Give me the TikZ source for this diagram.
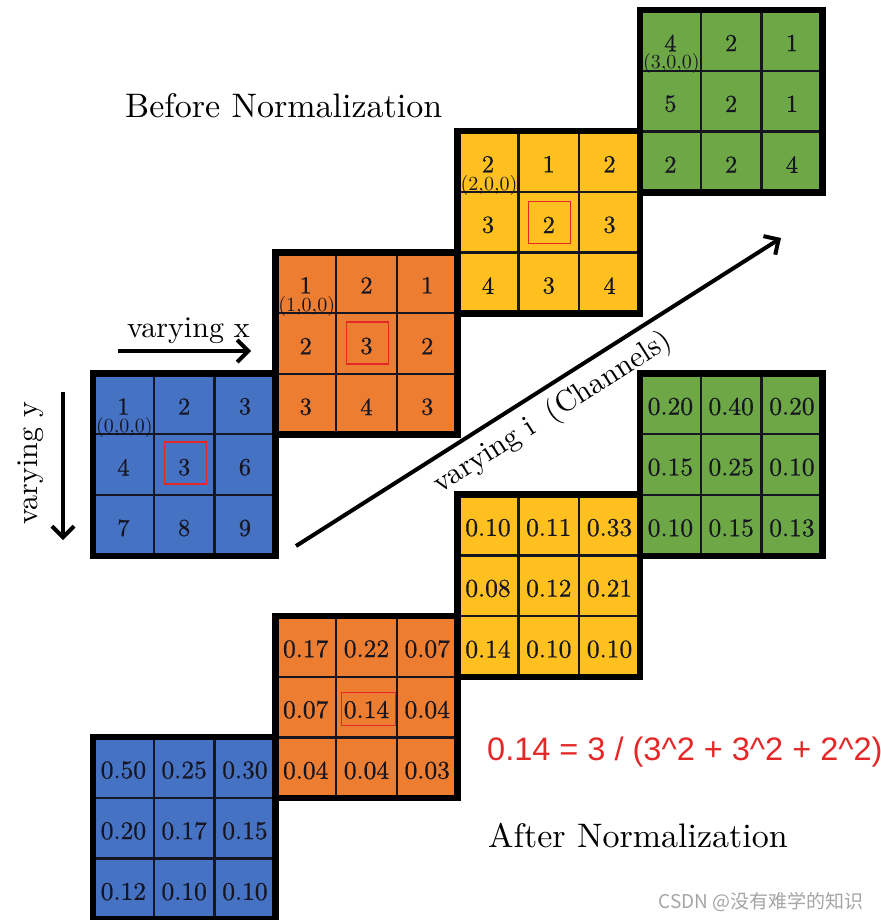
\documentclass[tikz,border=0pt]{standalone}
\usepackage{fontspec}
\setmainfont{lmroman10-regular.otf}
\newfontfamily\numf{lmroman10-regular.otf}[FakeBold=0.7]
\newfontfamily\sansf{Liberation Sans}
\newfontfamily\cjk{Noto Sans CJK SC}
\usetikzlibrary{arrows.meta}
\definecolor{cblue}{RGB}{70,114,196}
\definecolor{corange}{RGB}{237,125,49}
\definecolor{cyellow}{RGB}{255,192,32}
\definecolor{cgreen}{RGB}{110,168,70}
\definecolor{cred}{RGB}{228,40,40}
\definecolor{ctext}{RGB}{22,22,34}
\definecolor{cwm}{RGB}{165,165,165}
\tikzset{
  intnum/.style={text=ctext,inner sep=0pt,font=\numf\fontsize{24.5}{24.5}\selectfont},
  decnum/.style={text=ctext,inner sep=0pt,font=\numf\fontsize{25.5}{25.5}\selectfont},
  idxlbl/.style={text=ctext,inner sep=0pt,font=\fontsize{20}{20}\selectfont},
  innerline/.style={draw=ctext,line width=2.3pt},
  outerline/.style={draw=black,line width=6.5pt},
  redbox/.style={draw=cred,line width=1.6pt,fill=none},
  bigarrow/.style={line width=4pt,-{Straight Barb[length=11pt,width=22pt]}},
  title/.style={inner sep=0pt,font=\fontsize{34}{34}\selectfont},
  axislbl/.style={inner sep=0pt,font=\fontsize{30}{30}\selectfont},
}
\newcommand\drawgrid[6]{%
  \fill[#4] (#2,#3) rectangle ++(182.3,182.3);
  \foreach \v [count=\k from 0] in {#6} {
    \pgfmathtruncatemacro\rr{div(\k,3)}
    \pgfmathtruncatemacro\cc{mod(\k,3)}
    \node[#5] (#1-\k) at ({#2+30.4+60.77*\cc},{#3+33+60.77*\rr}) {\v};
  }
  \draw[innerline] (#2+60.77,#3) -- ++(0,182.3) (#2+121.53,#3) -- ++(0,182.3)
                   (#2,#3+60.77) -- ++(182.3,0) (#2,#3+121.53) -- ++(182.3,0);
  \draw[outerline] (#2,#3) rectangle ++(182.3,182.3);
}
\begin{document}
\begin{tikzpicture}[x=1pt,y=-1pt]
\useasboundingbox (0,0) rectangle (880,920);
\fill[white] (0,0) rectangle (880,920);

% ---- before normalization ----
\drawgrid{tb}{93}{373.5}{cblue}{intnum}{1,2,3,4,3,6,7,8,9}
\drawgrid{to}{275.3}{252.3}{corange}{intnum}{1,2,1,2,3,2,3,4,3}
\drawgrid{ty}{457.6}{131.1}{cyellow}{intnum}{2,1,2,3,2,3,4,3,4}
\drawgrid{tg}{640}{10}{cgreen}{intnum}{4,2,1,5,2,1,2,2,4}

\node[idxlbl] (lb) at (124.4,427.5) {(0,0,0)};
\node[idxlbl] (lo) at (306.7,306.3) {(1,0,0)};
\node[idxlbl] (ly) at (489.0,185.1) {(2,0,0)};
\node[idxlbl] (lg) at (671.4,64) {(3,0,0)};

\node[redbox,minimum width=42pt,minimum height=42pt] (rb1) at (185.5,463) {};
\node[redbox,minimum width=42pt,minimum height=42pt] (rb2) at (367.5,343) {};
\node[redbox,minimum width=42pt,minimum height=42pt] (rb3) at (549.5,222.5) {};

% ---- after normalization ----
\drawgrid{bb}{93}{737.1}{cblue}{decnum}{0.50,0.25,0.30,0.20,0.17,0.15,0.12,0.10,0.10}
\drawgrid{bo}{275.3}{615.9}{corange}{decnum}{0.17,0.22,0.07,0.07,0.14,0.04,0.04,0.04,0.03}
\drawgrid{by}{457.6}{494.7}{cyellow}{decnum}{0.10,0.11,0.33,0.08,0.12,0.21,0.14,0.10,0.10}
\drawgrid{bg}{640}{373.5}{cgreen}{decnum}{0.20,0.40,0.20,0.15,0.25,0.10,0.10,0.15,0.13}

\node[redbox,minimum width=54pt,minimum height=33pt] (rb4) at (368.5,709) {};

% ---- titles ----
\node[title,anchor=base west] (before) at (125,118) {Before Normalization};
\node[title,anchor=base west] (after) at (488,847) {After Normalization};

% ---- axes ----
\coordinate (xs) at (118,351);
\coordinate (xe) at (251,351);
\draw[bigarrow] (xs) -- (xe);
\node[axislbl,anchor=base west] (xl) at (127,337) {varying x};

\coordinate (ys) at (63,392);
\coordinate (ye) at (63,540);
\draw[bigarrow] (ys) -- (ye);
\node[axislbl,rotate=90] (yl) at (31,463) {varying y};

\coordinate (is) at (296,546);
\coordinate (ie) at (781,238);
\draw[bigarrow] (is) -- (ie);
\node[axislbl,rotate=32.5] (il) at (553,413) {varying i\hspace{0.25em} (Channels)};

% ---- formula ----
\node[inner sep=0pt,anchor=base west,text=cred,font=\sansf\fontsize{32.5}{32.5}\selectfont] (form) at (487,760)
  {0.14 = 3 / (3\string^2 + 3\string^2 + 2\string^2)};

% ---- watermark ----
\node[inner sep=0pt,anchor=base east,text=cwm,font=\cjk\fontsize{19}{19}\selectfont] (wm) at (864,908)
  {CSDN @没有难学的知识};
\end{tikzpicture}
\end{document}
